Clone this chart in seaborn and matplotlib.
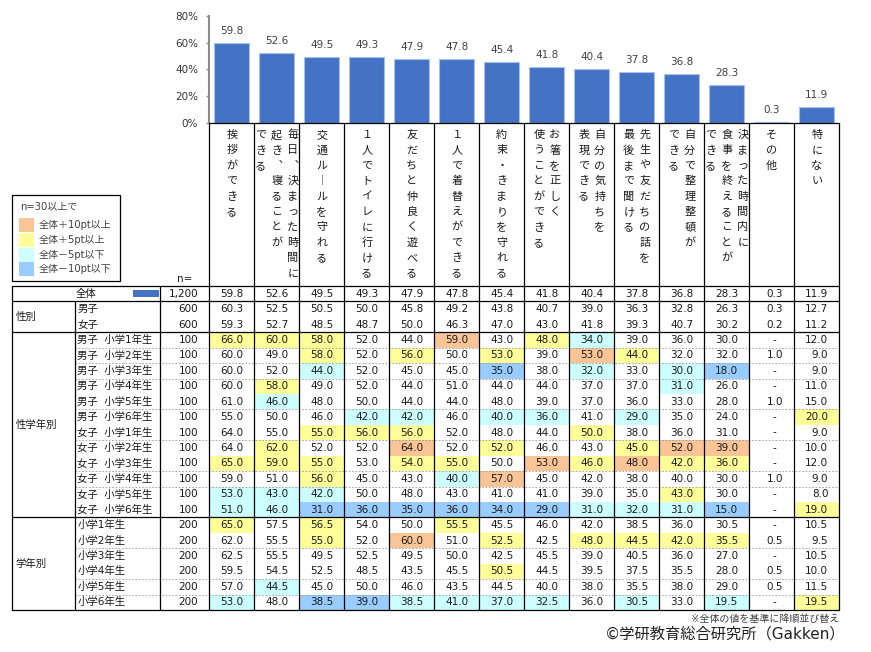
import numpy as np
import pandas as pd
import matplotlib
matplotlib.use("Agg")
import matplotlib.pyplot as plt
import seaborn as sns
from matplotlib.patches import Rectangle

sns.set_theme(style="white")
plt.rcParams['font.family'] = ['DejaVu Sans', 'Noto Sans CJK JP']

# ---------------- data ----------------
categories = ["挨拶ができる", "毎日、決まった時間に起き、寝ることができる", "交通ルールを守れる",
              "１人でトイレに行ける", "友だちと仲良く遊べる", "１人で着替えができる",
              "約束・きまりを守れる", "お箸を正しく使うことができる", "自分の気持ちを表現できる",
              "先生や友だちの話を最後まで聞ける", "自分で整理整頓ができる",
              "決まった時間内に食事を終えることができる", "その他", "特にない"]
category_columns = [["挨拶ができる"], ["毎日、決まった時間に", "起き、寝ることが", "できる"],
                    ["交通ルールを守れる"], ["１人でトイレに行ける"], ["友だちと仲良く遊べる"],
                    ["１人で着替えができる"], ["約束・きまりを守れる"], ["お箸を正しく", "使うことができる"],
                    ["自分の気持ちを", "表現できる"], ["先生や友だちの話を", "最後まで聞ける"],
                    ["自分で整理整頓が", "できる"], ["決まった時間内に", "食事を終えることが", "できる"],
                    ["その他"], ["特にない"]]

total = [59.8, 52.6, 49.5, 49.3, 47.9, 47.8, 45.4, 41.8, 40.4, 37.8, 36.8, 28.3, 0.3, 11.9]
male = [60.3, 52.5, 50.5, 50.0, 45.8, 49.2, 43.8, 40.7, 39.0, 36.3, 32.8, 26.3, 0.3, 12.7]
female = [59.3, 52.7, 48.5, 48.7, 50.0, 46.3, 47.0, 43.0, 41.8, 39.3, 40.7, 30.2, 0.2, 11.2]
m1 = [66.0, 60.0, 58.0, 52.0, 44.0, 59.0, 43.0, 48.0, 34.0, 39.0, 36.0, 30.0, None, 12.0]
m2 = [60.0, 49.0, 58.0, 52.0, 56.0, 50.0, 53.0, 39.0, 53.0, 44.0, 32.0, 32.0, 1.0, 9.0]
m3 = [60.0, 52.0, 44.0, 52.0, 45.0, 45.0, 35.0, 38.0, 32.0, 33.0, 30.0, 18.0, None, 9.0]
m4 = [60.0, 58.0, 49.0, 52.0, 44.0, 51.0, 44.0, 44.0, 37.0, 37.0, 31.0, 26.0, None, 11.0]
m5 = [61.0, 46.0, 48.0, 50.0, 44.0, 44.0, 48.0, 39.0, 37.0, 36.0, 33.0, 28.0, 1.0, 15.0]
m6 = [55.0, 50.0, 46.0, 42.0, 42.0, 46.0, 40.0, 36.0, 41.0, 29.0, 35.0, 24.0, None, 20.0]
f1 = [64.0, 55.0, 55.0, 56.0, 56.0, 52.0, 48.0, 44.0, 50.0, 38.0, 36.0, 31.0, None, 9.0]
f2 = [64.0, 62.0, 52.0, 52.0, 64.0, 52.0, 52.0, 46.0, 43.0, 45.0, 52.0, 39.0, None, 10.0]
f3 = [65.0, 59.0, 55.0, 53.0, 54.0, 55.0, 50.0, 53.0, 46.0, 48.0, 42.0, 36.0, None, 12.0]
f4 = [59.0, 51.0, 56.0, 45.0, 43.0, 40.0, 57.0, 45.0, 42.0, 38.0, 40.0, 30.0, 1.0, 9.0]
f5 = [53.0, 43.0, 42.0, 50.0, 48.0, 43.0, 41.0, 41.0, 39.0, 35.0, 43.0, 30.0, None, 8.0]
f6 = [51.0, 46.0, 31.0, 36.0, 35.0, 36.0, 34.0, 29.0, 31.0, 32.0, 31.0, 15.0, None, 19.0]
g1 = [65.0, 57.5, 56.5, 54.0, 50.0, 55.5, 45.5, 46.0, 42.0, 38.5, 36.0, 30.5, None, 10.5]
g2 = [62.0, 55.5, 55.0, 52.0, 60.0, 51.0, 52.5, 42.5, 48.0, 44.5, 42.0, 35.5, 0.5, 9.5]
g3 = [62.5, 55.5, 49.5, 52.5, 49.5, 50.0, 42.5, 45.5, 39.0, 40.5, 36.0, 27.0, None, 10.5]
g4 = [59.5, 54.5, 52.5, 48.5, 43.5, 45.5, 50.5, 44.5, 39.5, 37.5, 35.5, 28.0, 0.5, 10.0]
g5 = [57.0, 44.5, 45.0, 50.0, 46.0, 43.5, 44.5, 40.0, 38.0, 35.5, 38.0, 29.0, 0.5, 11.5]
g6 = [53.0, 48.0, 38.5, 39.0, 38.5, 41.0, 37.0, 32.5, 36.0, 30.5, 33.0, 19.5, None, 19.5]

row_labels = ["全体", "男子", "女子",
              "男子  小学1年生", "男子  小学2年生", "男子  小学3年生", "男子  小学4年生",
              "男子  小学5年生", "男子  小学6年生", "女子  小学1年生", "女子  小学2年生",
              "女子  小学3年生", "女子  小学4年生", "女子  小学5年生", "女子  小学6年生",
              "小学1年生", "小学2年生", "小学3年生", "小学4年生", "小学5年生", "小学6年生"]
row_n = [1200, 600, 600] + [100] * 12 + [200] * 6
row_values = [total, male, female, m1, m2, m3, m4, m5, m6, f1, f2, f3, f4, f5, f6,
              g1, g2, g3, g4, g5, g6]
groups = [("性別", 1, 3), ("性学年別", 3, 15), ("学年別", 15, 21)]
dashed_after = [3, 4, 5, 7, 9, 11, 12, 16, 18, 19]

legend_labels = ["全体＋10pt以上", "全体＋5pt以上", "全体－5pt以下", "全体－10pt以下"]
legend_colors = ["#FAC596", "#FFFF99", "#CCFFFF", "#99CCFF"]

BAR_COLOR = "#4472C4"
TXT = "#1a1a1a"

# ---------------- figure ----------------
W, H = 871, 652
fig = plt.figure(figsize=(W / 100, H / 100), dpi=100)
fig.patch.set_facecolor("white")

ov = fig.add_axes([0, 0, 1, 1])
ov.set_xlim(0, W)
ov.set_ylim(H, 0)
ov.axis("off")
ov.patch.set_alpha(0)

ax_left, ax_right = 209.3, 839.3
ax_top, ax_bot = 16.0, 122.7
ax = fig.add_axes([ax_left / W, 1 - ax_bot / H, (ax_right - ax_left) / W, (ax_bot - ax_top) / H])
ax.patch.set_alpha(0)

df = pd.DataFrame({"cat": categories, "val": total})
sns.barplot(data=df, x="cat", y="val", color=BAR_COLOR, saturation=1, width=0.78,
            edgecolor="#A9C1EA", linewidth=0.8, ax=ax)
ax.set_xlim(-0.5, len(categories) - 0.5)
ax.set_ylim(0, 80)
ax.set_yticks([0, 20, 40, 60, 80])
ax.set_yticklabels([f"{v}%" for v in [0, 20, 40, 60, 80]], fontsize=7.5, color="#333333")
ax.set_xticks([])
ax.set_xlabel("")
ax.set_ylabel("")
for s in ["top", "right"]:
    ax.spines[s].set_visible(False)
ax.spines["left"].set_color("#8c8c8c")
ax.spines["left"].set_linewidth(1.5)
ax.spines["bottom"].set_color("black")
ax.spines["bottom"].set_linewidth(0.9)
ax.tick_params(axis="y", direction="out", length=2.5, width=1, color="#8c8c8c", pad=5.5, left=True)
ax.bar_label(ax.containers[0], fmt="%.1f", padding=5, fontsize=7.5, color="#404040")

# column geometry derived from the bar axes scale
fig.canvas.draw()
def xpix(v):
    return ax.transData.transform((v, 0))[0]
ncol = len(categories)
col_edges = [xpix(i - 0.5) for i in range(ncol + 1)]
zero_y = H - ax.transData.transform((0, 0))[1]

# header vertical category labels
vert_map = {"ー": "︱", "、": "︑"}
for i, cols in enumerate(category_columns):
    cx = (col_edges[i] + col_edges[i + 1]) / 2
    n = len(cols)
    for j, line in enumerate(cols):
        x = cx + (n - 1) / 2 * 16 - j * 16
        for k, ch in enumerate(line):
            ov.text(x, 135 + k * 15.4, vert_map.get(ch, ch), ha="center", va="center",
                    fontsize=8, color=TXT, family=["Noto Sans CJK JP", "DejaVu Sans"])

# table geometry
t_top, t_bot = 286.0, 610.0
nrow = len(row_labels)
rh = (t_bot - t_top) / nrow
x_left, x_grp, x_n = 12.3, 74.7, 160.3
x_end = col_edges[-1]

# cell fills
for r, vals in enumerate(row_values):
    if r == 0:
        continue
    for c, v in enumerate(vals):
        if v is None:
            continue
        d = round(v - total[c], 1)
        color = None
        if d >= 10:
            color = legend_colors[0]
        elif d >= 5:
            color = legend_colors[1]
        elif d <= -10:
            color = legend_colors[3]
        elif d <= -5:
            color = legend_colors[2]
        if color:
            ov.add_patch(Rectangle((col_edges[c], t_top + r * rh), col_edges[c + 1] - col_edges[c], rh,
                                   facecolor=color, edgecolor="none", zorder=1))

# dashed separators
for r in dashed_after:
    y = t_top + (r + 1) * rh
    ov.plot([x_grp, x_end], [y, y], color="#9a9a9a", lw=0.6, ls=(0, (2, 2)), zorder=2)

# solid lines
for r in [0, 1, 3, 15, 21]:
    y = t_top + r * rh
    ov.plot([x_left, x_end], [y, y], color="black", lw=0.9, zorder=3)
ov.plot([x_left, x_left], [t_top, t_bot], color="black", lw=0.9, zorder=3)
ov.plot([x_grp, x_grp], [t_top + rh, t_bot], color="black", lw=0.9, zorder=3)
ov.plot([x_n, x_n], [t_top, t_bot], color="black", lw=0.9, zorder=3)
for e in col_edges:
    ov.plot([e, e], [zero_y, t_bot], color="black", lw=0.9, zorder=3)

# table text
for r, (lab, n, vals) in enumerate(zip(row_labels, row_n, row_values)):
    yc = t_top + (r + 0.5) * rh
    if r == 0:
        ov.text((x_left + x_n) / 2, yc, lab, ha="center", va="center", fontsize=7.5, color=TXT, zorder=4)
        ov.add_patch(Rectangle((132.7, yc - 3.8), 26.3, 7.4, facecolor=BAR_COLOR, edgecolor="none", zorder=4))
    else:
        ov.text(x_grp + 2.6, yc, lab, ha="left", va="center", fontsize=7.5, color=TXT, zorder=4)
    ov.text(col_edges[0] - 11, yc, f"{n:,}", ha="right", va="center", fontsize=7.5, color=TXT, zorder=4)
    for c, v in enumerate(vals):
        right = col_edges[c + 1] - 11
        if v is None:
            ov.text(right - 9, yc, "-", ha="center", va="center", fontsize=7.5, color=TXT, zorder=4)
        else:
            ov.text(right, yc, f"{v:.1f}", ha="right", va="center", fontsize=7.5, color=TXT, zorder=4)

for name, a, b in groups:
    yc = t_top + (a + b) / 2 * rh
    ov.text(x_left + 3.4, yc, name, ha="left", va="center", fontsize=7.5, color=TXT, zorder=4)

ov.text(184.5, 279.5, "n=", ha="center", va="center", fontsize=7.5, color=TXT)

# legend box
ov.add_patch(Rectangle((12.3, 195.0), 108.0, 85.7, facecolor="white", edgecolor="black", lw=0.9, zorder=2))
ov.text(20, 206.7, "n=30以上で", ha="left", va="center", fontsize=7.2, color="#404040", zorder=3)
sw_y = [218.3, 233.0, 247.7, 262.4]
for yy, lab, colr in zip(sw_y, legend_labels, legend_colors):
    ov.add_patch(Rectangle((19.0, yy), 15.0, 14.0, facecolor=colr, edgecolor="none", zorder=3))
    ov.text(38.3, yy + 7.0, lab, ha="left", va="center", fontsize=7.2, color="#404040", zorder=3)

# footer
ov.text(839, 619, "※全体の値を基準に降順並び替え", ha="right", va="center", fontsize=7.2, color="#404040")
ov.text(845, 634, "©学研教育総合研究所（Gakken）", ha="right", va="center", fontsize=11, color="#222222")

fig.savefig("out.png", dpi=100, facecolor="white")
